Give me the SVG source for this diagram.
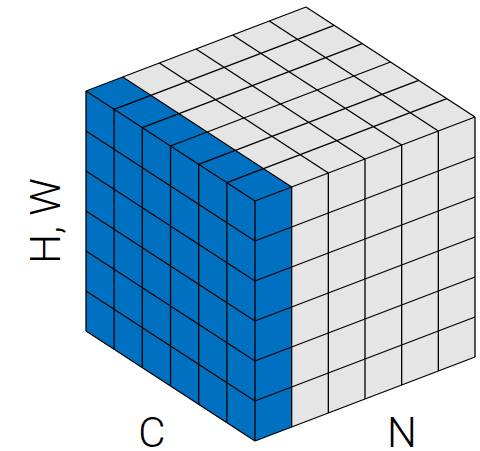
<svg xmlns="http://www.w3.org/2000/svg" width="480" height="451" viewBox="0 0 480 451">
<style>
.blue{fill:#0070C0}
.gray{fill:#E5E5E5}
.grid{fill:none;stroke:#000;stroke-width:1.3;stroke-linejoin:round}
.lbl{font-family:Roboto,"Liberation Sans",sans-serif;font-weight:300;font-size:42px;fill:#000;text-anchor:middle}
</style>
<g id="faces">
<polygon id="left-face" class="blue" points="255,201 86,91 86,331 255,441"/>
<polygon id="right-gray" class="gray" points="291.67,187 475,117 475,357 291.67,427"/>
<polygon id="right-blue" class="blue" points="255,201 291.67,187 291.67,427 255,441"/>
<polygon id="top-gray" class="gray" points="291.67,187 475,117 306,7 122.67,77"/>
<polygon id="top-blue" class="blue" points="255,201 291.67,187 122.67,77 86,91"/>
</g>
<g id="grid" class="grid">
<path d="M255,201V441M226.83,182.67V422.67M198.67,164.33V404.33M170.5,146V386M142.33,127.67V367.67M114.17,109.33V349.33M86,91V331"/>
<path d="M86,91L255,201M86,131L255,241M86,171L255,281M86,211L255,321M86,251L255,361M86,291L255,401M86,331L255,441"/>
<path d="M291.67,187V427M328.33,173V413M365,159V399M401.67,145V385M438.33,131V371M475,117V357"/>
<path d="M255,241L475,157M255,281L475,197M255,321L475,237M255,361L475,277M255,401L475,317M255,441L475,357"/>
<path d="M255,201L475,117M226.83,182.67L446.83,98.67M198.67,164.33L418.67,80.33M170.5,146L390.5,62M142.33,127.67L362.33,43.67M114.17,109.33L334.17,25.33M86,91L306,7"/>
<path d="M291.67,187L122.67,77M328.33,173L159.33,63M365,159L196,49M401.67,145L232.67,35M438.33,131L269.33,21M475,117L306,7"/>
</g>
<g id="labels">
<text class="lbl" x="152" y="447">C</text>
<text class="lbl" x="402" y="447">N</text>
<text class="lbl" transform="translate(60,221) rotate(-90)">H, W</text>
</g>
</svg>
